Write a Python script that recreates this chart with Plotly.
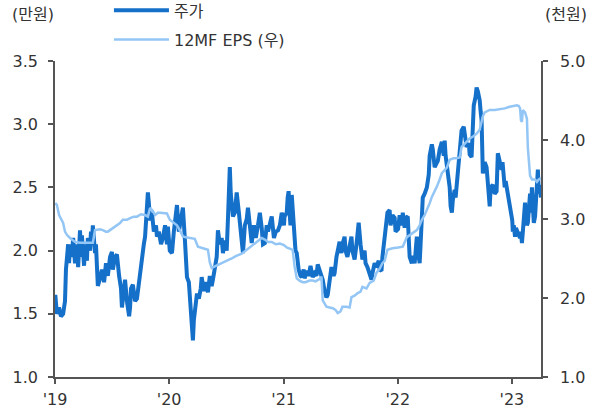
import pandas as pd
import plotly.graph_objects as go

# Share price (left axis, 10k KRW)
price_dates = [
    "2019-01-02", "2019-01-04", "2019-01-07", "2019-01-14", "2019-01-20", "2019-01-27",
    "2019-02-02", "2019-02-05", "2019-02-08", "2019-02-12", "2019-02-15", "2019-02-18",
    "2019-02-24", "2019-02-28", "2019-03-06", "2019-03-12", "2019-03-16", "2019-03-19",
    "2019-03-22", "2019-03-25", "2019-03-28", "2019-04-04", "2019-04-07", "2019-04-13",
    "2019-04-16", "2019-04-23", "2019-04-26", "2019-04-29", "2019-05-02", "2019-05-09",
    "2019-05-12", "2019-05-15", "2019-05-18", "2019-05-25", "2019-05-31", "2019-06-07",
    "2019-06-13", "2019-06-19", "2019-06-26", "2019-07-02", "2019-07-05", "2019-07-12",
    "2019-07-18", "2019-07-25", "2019-07-31", "2019-08-03", "2019-08-06", "2019-08-13",
    "2019-08-19", "2019-08-26", "2019-08-29", "2019-09-01", "2019-09-07", "2019-09-14",
    "2019-09-20", "2019-09-26", "2019-10-03", "2019-10-06", "2019-10-12", "2019-10-16",
    "2019-10-19", "2019-10-22", "2019-10-25", "2019-10-28", "2019-11-01", "2019-11-07",
    "2019-11-13", "2019-11-20", "2019-11-23", "2019-11-29", "2019-12-06", "2019-12-12",
    "2019-12-19", "2019-12-25", "2019-12-28",
    "2020-01-03", "2020-01-10", "2020-01-16", "2020-01-22", "2020-01-26", "2020-02-01",
    "2020-02-07", "2020-02-14", "2020-02-20", "2020-02-23", "2020-02-27", "2020-03-04",
    "2020-03-10", "2020-03-17", "2020-03-20", "2020-03-26", "2020-03-30", "2020-04-05",
    "2020-04-11", "2020-04-14", "2020-04-21", "2020-04-27", "2020-05-04", "2020-05-10",
    "2020-05-16", "2020-05-20", "2020-05-26", "2020-06-01", "2020-06-05", "2020-06-11",
    "2020-06-17", "2020-06-21", "2020-06-27", "2020-07-03", "2020-07-07", "2020-07-10",
    "2020-07-13", "2020-07-16", "2020-07-23", "2020-07-29", "2020-08-04", "2020-08-11",
    "2020-08-17", "2020-08-24", "2020-08-30", "2020-09-05", "2020-09-09", "2020-09-15",
    "2020-09-21", "2020-09-28", "2020-10-04", "2020-10-11", "2020-10-17", "2020-10-23",
    "2020-10-27", "2020-11-02", "2020-11-08", "2020-11-12", "2020-11-18", "2020-11-24",
    "2020-12-01", "2020-12-07", "2020-12-14", "2020-12-20", "2020-12-26",
    "2021-01-02", "2021-01-04", "2021-01-11", "2021-01-14", "2021-01-17", "2021-01-20",
    "2021-01-23", "2021-01-27", "2021-01-30", "2021-02-02", "2021-02-08", "2021-02-12",
    "2021-02-18", "2021-02-24", "2021-02-28", "2021-03-06", "2021-03-09", "2021-03-16",
    "2021-03-22", "2021-03-28", "2021-04-04", "2021-04-10", "2021-04-16", "2021-04-20",
    "2021-04-26", "2021-05-02", "2021-05-06", "2021-05-12", "2021-05-18", "2021-05-22",
    "2021-05-28", "2021-06-03", "2021-06-10", "2021-06-13", "2021-06-19", "2021-06-26",
    "2021-06-29", "2021-07-05", "2021-07-08", "2021-07-15", "2021-07-18", "2021-07-24",
    "2021-07-31", "2021-08-06", "2021-08-09", "2021-08-16", "2021-08-22", "2021-08-29",
    "2021-09-04", "2021-09-10", "2021-09-17", "2021-09-20", "2021-09-26", "2021-10-03",
    "2021-10-09", "2021-10-12", "2021-10-19", "2021-10-25", "2021-11-01", "2021-11-04",
    "2021-11-10", "2021-11-13", "2021-11-20", "2021-11-26", "2021-11-29", "2021-12-06",
    "2021-12-09", "2021-12-15", "2021-12-22", "2021-12-25",
    "2022-01-02", "2022-01-07", "2022-01-14", "2022-01-17", "2022-01-23", "2022-01-27",
    "2022-02-02", "2022-02-05", "2022-02-08", "2022-02-15", "2022-02-18", "2022-02-24",
    "2022-03-03", "2022-03-06", "2022-03-12", "2022-03-15", "2022-03-19", "2022-03-22",
    "2022-03-28", "2022-04-04", "2022-04-10", "2022-04-13", "2022-04-20", "2022-04-23",
    "2022-04-29", "2022-05-06", "2022-05-09", "2022-05-15", "2022-05-22", "2022-05-28",
    "2022-05-31", "2022-06-03", "2022-06-10", "2022-06-16", "2022-06-19", "2022-06-23",
    "2022-06-26", "2022-07-02", "2022-07-05", "2022-07-12", "2022-07-18", "2022-07-21",
    "2022-07-24", "2022-07-31", "2022-08-03", "2022-08-09", "2022-08-16", "2022-08-19",
    "2022-08-25", "2022-08-29", "2022-09-01", "2022-09-07", "2022-09-10", "2022-09-14",
    "2022-09-20", "2022-09-23", "2022-09-26", "2022-09-30", "2022-10-06", "2022-10-12",
    "2022-10-16", "2022-10-22", "2022-10-25", "2022-11-01", "2022-11-07", "2022-11-13",
    "2022-11-17", "2022-11-23", "2022-11-29", "2022-12-02", "2022-12-09", "2022-12-12",
    "2022-12-19", "2022-12-22", "2022-12-25",
    "2023-01-02", "2023-01-04", "2023-01-07", "2023-01-11", "2023-01-14", "2023-01-20",
    "2023-01-27", "2023-01-30", "2023-02-02", "2023-02-05", "2023-02-08", "2023-02-12",
    "2023-02-15", "2023-02-18", "2023-02-21", "2023-02-28", "2023-03-03", "2023-03-06",
    "2023-03-09", "2023-03-12", "2023-03-16", "2023-03-19", "2023-03-22", "2023-03-25",
    "2023-03-28", "2023-04-01", "2023-04-04",
]
price = [
    1.65, 1.60, 1.50, 1.55, 1.48, 1.50,
    1.60, 1.85, 1.95, 2.05, 1.90, 2.05,
    1.95, 2.10, 1.90, 2.05, 1.87, 2.00,
    2.16, 1.95, 2.12, 1.88, 2.05, 1.92,
    2.10, 2.00, 2.15, 2.05, 2.20, 1.98,
    2.05, 1.88, 1.72, 1.78, 1.85, 1.75,
    1.90, 1.80, 1.95, 1.99, 1.85, 1.95,
    1.97, 1.80, 1.70, 1.55, 1.62, 1.77,
    1.60, 1.48, 1.55, 1.70, 1.73, 1.60,
    1.62, 1.75, 1.90, 1.95, 2.05, 2.11,
    2.20, 2.35, 2.46, 2.38, 2.24, 2.30,
    2.15, 2.20, 2.11, 2.15, 2.05, 2.10,
    2.20, 2.05, 2.19,
    2.00, 1.98, 2.15, 2.30, 2.36, 2.15,
    2.25, 2.34, 2.10, 1.95, 1.79, 1.75,
    1.50, 1.29, 1.45, 1.60, 1.66, 1.62,
    1.70, 1.79, 1.68, 1.75, 1.67, 1.80,
    1.72, 1.77, 1.85, 1.95, 2.16, 2.05,
    2.10, 1.98, 2.08, 2.00, 2.25, 2.45,
    2.66, 2.45, 2.27, 2.30, 2.46, 2.30,
    2.15, 1.98, 2.20, 2.25, 2.34, 2.15,
    2.06, 2.20, 2.10, 2.20, 2.30, 2.18,
    2.05, 2.06, 2.20, 2.15, 2.22, 2.27,
    2.10, 2.15, 2.16, 2.20, 2.30,
    2.20, 2.27, 2.30, 2.42, 2.47, 2.30,
    2.20, 2.44, 2.30, 2.15, 2.00, 1.98,
    1.85, 1.80, 1.79, 1.85, 1.78, 1.84,
    1.80, 1.88, 1.79, 1.82, 1.80, 1.89,
    1.84, 1.80, 1.77, 1.68, 1.63, 1.65,
    1.80, 1.87, 1.80, 1.82, 1.95, 2.02,
    2.07, 1.98, 2.05, 2.11, 2.00, 1.95,
    2.05, 2.11, 2.00, 1.93, 2.05, 2.22,
    2.05, 1.93, 2.00, 1.90, 1.87, 1.80,
    1.77, 1.82, 1.90, 1.87, 1.92, 1.85,
    1.84, 1.95, 2.11, 2.20, 2.30, 2.32,
    2.20, 2.28, 2.26, 2.15,
    2.17, 2.28, 2.20, 2.30, 2.18, 2.26,
    2.27, 2.10, 1.95, 1.90, 1.96, 1.90,
    2.11, 2.00, 1.90, 2.05, 2.25, 2.42,
    2.45, 2.50, 2.60, 2.75, 2.84, 2.80,
    2.66, 2.70, 2.71, 2.80, 2.86, 2.75,
    2.87, 2.75, 2.61, 2.50, 2.35, 2.30,
    2.40, 2.48, 2.42, 2.64, 2.78, 2.90,
    2.95, 2.98, 2.90, 2.82, 2.85, 2.76,
    2.74, 3.05, 3.15, 3.22, 3.29, 3.26,
    3.19, 3.10, 3.03, 2.61, 2.70, 2.66,
    2.55, 2.35, 2.50, 2.52, 2.45, 2.47,
    2.77, 2.70, 2.64, 2.70, 2.50, 2.55,
    2.45, 2.40, 2.35,
    2.24, 2.15, 2.20, 2.11, 2.18, 2.14,
    2.10, 2.15, 2.06, 2.15, 2.30, 2.38,
    2.25, 2.20, 2.22, 2.45, 2.30, 2.50,
    2.35, 2.22, 2.27, 2.40, 2.55, 2.64,
    2.45, 2.52, 2.42,
]

# 12-month forward EPS (right axis, 1k KRW)
eps_dates = [
    "2019-01-02", "2019-01-07", "2019-01-14", "2019-01-20", "2019-01-27", "2019-02-02",
    "2019-02-08", "2019-02-18", "2019-02-28", "2019-03-06", "2019-03-22", "2019-04-07",
    "2019-04-23", "2019-05-02", "2019-05-09", "2019-05-25", "2019-06-03", "2019-06-13",
    "2019-06-19", "2019-07-02", "2019-07-18", "2019-07-28", "2019-08-06", "2019-08-19",
    "2019-08-29", "2019-09-10", "2019-09-20", "2019-10-03", "2019-10-16", "2019-10-25",
    "2019-11-01", "2019-11-10", "2019-11-17", "2019-11-26", "2019-12-03", "2019-12-15",
    "2019-12-25",
    "2020-01-03", "2020-01-13", "2020-01-26", "2020-02-04", "2020-02-14", "2020-02-23",
    "2020-03-07", "2020-03-23", "2020-04-02", "2020-04-21", "2020-05-04", "2020-05-10",
    "2020-05-16", "2020-05-26", "2020-06-05", "2020-06-17", "2020-07-07", "2020-07-19",
    "2020-08-01", "2020-08-20", "2020-09-02", "2020-09-15", "2020-09-28", "2020-10-11",
    "2020-10-23", "2020-11-02", "2020-11-12", "2020-11-24", "2020-12-07", "2020-12-20",
    "2021-01-02", "2021-01-11", "2021-01-20", "2021-01-30", "2021-02-05", "2021-02-12",
    "2021-02-21", "2021-03-03", "2021-03-12", "2021-03-25", "2021-04-04", "2021-04-13",
    "2021-04-26", "2021-05-02", "2021-05-06", "2021-05-12", "2021-05-18", "2021-05-28",
    "2021-06-07", "2021-06-16", "2021-06-23", "2021-07-02", "2021-07-08", "2021-07-21",
    "2021-07-31", "2021-08-06", "2021-08-16", "2021-08-25", "2021-09-04", "2021-09-10",
    "2021-09-23", "2021-10-03", "2021-10-16", "2021-10-25", "2021-11-04", "2021-11-13",
    "2021-11-20", "2021-11-29", "2021-12-15",
    "2022-01-02", "2022-01-17", "2022-01-30", "2022-02-15", "2022-03-03", "2022-03-12",
    "2022-03-19", "2022-03-28", "2022-04-04", "2022-04-13", "2022-04-20", "2022-04-29",
    "2022-05-06", "2022-05-15", "2022-05-22", "2022-05-31", "2022-06-07", "2022-06-16",
    "2022-06-29", "2022-07-08", "2022-07-18", "2022-07-24", "2022-08-03", "2022-08-09",
    "2022-08-19", "2022-09-01", "2022-09-10", "2022-09-20", "2022-09-30", "2022-10-06",
    "2022-10-22", "2022-11-07", "2022-11-23", "2022-12-09", "2022-12-25",
    "2023-01-11", "2023-01-17", "2023-01-23", "2023-01-27", "2023-01-30", "2023-02-02",
    "2023-02-05", "2023-02-12", "2023-02-18", "2023-02-21", "2023-02-28", "2023-03-06",
    "2023-03-16", "2023-03-22", "2023-03-28", "2023-04-04",
]
eps = [
    3.20, 3.18, 3.05, 3.01, 2.95, 2.84,
    2.80, 2.76, 2.73, 2.71, 2.70, 2.70,
    2.70, 2.70, 2.86, 2.87, 2.86, 2.84,
    2.84, 2.88, 2.92, 2.95, 2.99, 2.99,
    3.01, 3.03, 3.03, 3.06, 3.05, 3.03,
    3.14, 3.10, 3.05, 3.08, 3.08, 3.07,
    3.07,
    2.99, 2.96, 2.92, 2.86, 2.78, 2.77,
    2.76, 2.75, 2.65, 2.63, 2.61, 2.45,
    2.38, 2.40, 2.42, 2.45, 2.48, 2.50,
    2.53, 2.56, 2.60, 2.64, 2.68, 2.72,
    2.76, 2.74, 2.71, 2.71, 2.68, 2.69,
    2.67, 2.64, 2.63, 2.61, 2.40, 2.25,
    2.22, 2.20, 2.20, 2.22, 2.22, 2.21,
    2.24, 2.27, 1.97, 1.92, 1.89, 1.88,
    1.87, 1.85, 1.81, 1.83, 1.89, 1.89,
    1.88, 2.01, 2.03, 2.06, 2.08, 2.14,
    2.12, 2.19, 2.22, 2.32, 2.37, 2.44,
    2.47, 2.61, 2.63,
    2.64, 2.65, 2.77, 2.82, 2.86, 2.92,
    2.99, 3.05, 3.11, 3.20, 3.28, 3.35,
    3.41, 3.50, 3.58, 3.62, 3.65, 3.75,
    3.77, 3.77, 3.78, 3.91, 3.95, 3.98,
    4.02, 4.05, 4.08, 4.13, 4.30, 4.35,
    4.38, 4.38, 4.39, 4.40, 4.42,
    4.43, 4.44, 4.43, 4.40, 4.25, 4.23,
    4.38, 4.35, 4.27, 3.90, 3.55, 3.50,
    3.50, 3.47, 3.50, 3.52,
]

year_ticks = ["2019-01-01", "2020-01-01", "2021-01-01", "2022-01-01", "2023-01-01"]
year_labels = ["'19", "'20", "'21", "'22", "'23"]
left_ticks = [1.0, 1.5, 2.0, 2.5, 3.0, 3.5]
right_ticks = [1.0, 2.0, 3.0, 4.0, 5.0]

DARK = "#1570c9"
LIGHT = "#93c6f5"
AXIS = "#555555"
TEXT = "#333333"
FONT = "DejaVu Sans, Noto Sans CJK KR"
FSIZE = 16

fig = go.Figure()
fig.add_trace(go.Scatter(
    x=pd.to_datetime(price_dates), y=price, name="주가", mode="lines",
    line=dict(color=DARK, width=4), yaxis="y", legend="legend",
))
fig.add_trace(go.Scatter(
    x=pd.to_datetime(eps_dates), y=eps, name="12MF EPS (우)", mode="lines",
    line=dict(color=LIGHT, width=2.5), yaxis="y2", legend="legend2",
))

axis_common = dict(
    showline=True, linecolor=AXIS, linewidth=1.5, showgrid=False, zeroline=False,
    ticks="outside", ticklen=5, tickwidth=1.5, tickcolor=AXIS,
    tickfont=dict(family=FONT, size=FSIZE, color=TEXT),
)
legend_common = dict(
    xanchor="left", yanchor="middle", bgcolor="rgba(0,0,0,0)", itemwidth=55,
    font=dict(family=FONT, size=FSIZE, color=TEXT), borderwidth=0,
)

fig.update_layout(
    width=589, height=411,
    margin=dict(l=55, r=48, t=61, b=34, autoexpand=False),
    paper_bgcolor="white", plot_bgcolor="white",
    font=dict(family=FONT, color=TEXT),
    showlegend=True,
    xaxis=dict(
        type="date", range=["2019-01-01", "2023-04-04"],
        tickvals=year_ticks, ticktext=year_labels, ticklabelstandoff=2, **axis_common,
    ),
    yaxis=dict(range=[1.0, 3.5], tickvals=left_ticks, tickformat=".1f",
               ticklabelstandoff=7, **axis_common),
    yaxis2=dict(range=[1.0, 5.0], tickvals=right_ticks, tickformat=".1f",
                overlaying="y", side="right", anchor="x", ticklabelstandoff=9,
                **axis_common),
    legend=dict(x=0.111, y=1.16, **legend_common),
    legend2=dict(x=0.111, y=1.068, **legend_common),
    annotations=[
        dict(text="(만원)", x=0, y=1, xref="paper", yref="paper", xanchor="center",
             yanchor="bottom", xshift=-22, yshift=35, showarrow=False,
             font=dict(family=FONT, size=FSIZE, color=TEXT)),
        dict(text="(천원)", x=1, y=1, xref="paper", yref="paper", xanchor="center",
             yanchor="bottom", xshift=25, yshift=35, showarrow=False,
             font=dict(family=FONT, size=FSIZE, color=TEXT)),
    ],
)

fig.write_html("out.html")
